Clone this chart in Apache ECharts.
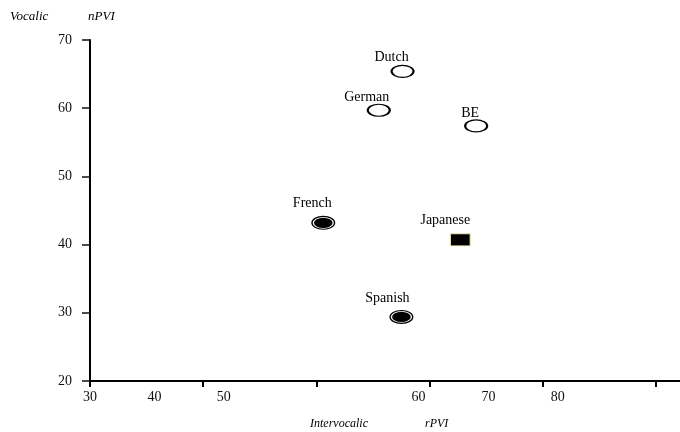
<!DOCTYPE html>
<html>
<head>
<meta charset="utf-8">
<script src="https://cdn.jsdelivr.net/npm/echarts@6/dist/echarts.min.js"></script>
<style>
  html, body { margin: 0; padding: 0; background: #fff; }
  #chart { width: 680px; height: 432px; }
</style>
</head>
<body>
<div id="chart"></div>
<script>
// Pairwise variability indices per language
const languages = ['Dutch', 'German', 'BE', 'French', 'Japanese', 'Spanish'];
const rPVI = [57.6, 55.5, 64.1, 50.6, 62.7, 57.5];   // intervocalic rPVI
const nPVI = [65.4, 59.7, 57.4, 43.2, 40.7, 29.4];   // vocalic nPVI
const markerKind = ['open', 'open', 'open', 'filled', 'square', 'filled'];

// Axis ticks and tick labels
const xTickValues = [30, 40, 50, 60, 70, 80];
const xTickLabels = ['30', '40', '50', '60', '70', '80'];
const yTickLabels = ['20', '30', '40', '50', '60', '70'];

// Where each x tick label sits along the axis (layout only)
const xLabelAnchors = [30.0, 35.7, 41.8, 59.0, 65.2, 71.3];

// Label placement relative to each marker centre, in pixels
const labelShift = {
  Dutch: [-11, -14], German: [-12, -13], BE: [-6, -13],
  French: [-11, -19], Japanese: [-15, -19], Spanish: [-14, -19]
};

const SERIF = '"Liberation Serif", "DejaVu Serif", serif';
const ELLIPSE = 'path://M0,50 C0,22.4 22.4,0 50,0 C77.6,0 100,22.4 100,50 C100,77.6 77.6,100 50,100 C22.4,100 0,77.6 0,50 Z';

function pointsOf(kind, withLabel) {
  const out = [];
  languages.forEach((name, i) => {
    if (markerKind[i] !== kind) return;
    const item = { name: name, value: [rPVI[i], nPVI[i]] };
    if (withLabel) {
      item.label = {
        show: true,
        position: 'inside',
        offset: labelShift[name],
        formatter: '{b}',
        color: '#000',
        opacity: 1,
        fontFamily: SERIF,
        fontSize: 14
      };
    }
    out.push(item);
  });
  return out;
}

const chart = echarts.init(document.getElementById('chart'), null, { renderer: 'canvas' });

chart.setOption({
  animation: false,
  backgroundColor: '#fff',
  grid: { left: 90, right: 0, top: 40, bottom: 51, containLabel: false },
  xAxis: {
    type: 'value',
    min: 30,
    max: 82.1,
    splitLine: { show: false },
    axisLine: { show: true, onZero: false, lineStyle: { color: '#000', width: 2 } },
    axisTick: {
      show: true, inside: false, length: 6,
      customValues: xTickValues,
      lineStyle: { color: '#000', width: 2 }
    },
    axisLabel: {
      show: true,
      customValues: xLabelAnchors,
      showMinLabel: true,
      formatter: function (value) {
        let best = 0;
        xLabelAnchors.forEach((v, k) => {
          if (Math.abs(v - value) < Math.abs(xLabelAnchors[best] - value)) best = k;
        });
        return xTickLabels[best];
      },
      margin: 9,
      color: '#111',
      fontFamily: SERIF,
      fontSize: 14
    }
  },
  yAxis: {
    type: 'value',
    min: 20,
    max: 70,
    interval: 10,
    splitLine: { show: false },
    axisLine: { show: true, onZero: false, lineStyle: { color: '#000', width: 2 } },
    axisTick: { show: true, inside: false, length: 8, lineStyle: { color: '#111', width: 1.5 } },
    axisLabel: {
      margin: 18,
      color: '#111',
      fontFamily: SERIF,
      fontSize: 14,
      formatter: function (value) {
        return yTickLabels[Math.round((value - 20) / 10)];
      }
    }
  },
  graphic: [
    {
      type: 'text', left: 10, top: 10,
      style: { text: 'Vocalic', font: 'italic 13px ' + SERIF, fill: '#000' }
    },
    {
      type: 'text', left: 88, top: 10,
      style: { text: 'nPVI', font: 'italic 13px ' + SERIF, fill: '#000' }
    },
    {
      type: 'text', left: 310, top: 418,
      style: { text: 'Intervocalic', font: 'italic 12px ' + SERIF, fill: '#000' }
    },
    {
      type: 'text', left: 425, top: 418,
      style: { text: 'rPVI', font: 'italic 12px ' + SERIF, fill: '#000' }
    }
  ],
  series: [
    {
      // outer black body of the filled ellipses
      type: 'scatter', z: 2,
      symbol: ELLIPSE, symbolSize: [24, 14],
      itemStyle: { color: '#000', borderWidth: 0, opacity: 1 },
      data: pointsOf('filled', false)
    },
    {
      // white rim just inside the filled ellipses
      type: 'scatter', z: 3,
      symbol: ELLIPSE, symbolSize: [20, 11],
      itemStyle: { color: '#000', borderColor: '#fff', borderWidth: 1, opacity: 1 },
      data: pointsOf('filled', true)
    },
    {
      type: 'scatter', z: 3,
      symbol: ELLIPSE, symbolSize: [22, 12],
      itemStyle: { color: '#fff', borderColor: '#000', borderWidth: 1.6, opacity: 1 },
      data: pointsOf('open', true)
    },
    {
      type: 'scatter', z: 3,
      symbol: 'rect', symbolSize: [20, 12],
      itemStyle: { color: '#000', borderColor: '#efe9a6', borderWidth: 1, opacity: 1 },
      data: pointsOf('square', true)
    }
  ]
});
</script>
</body>
</html>
